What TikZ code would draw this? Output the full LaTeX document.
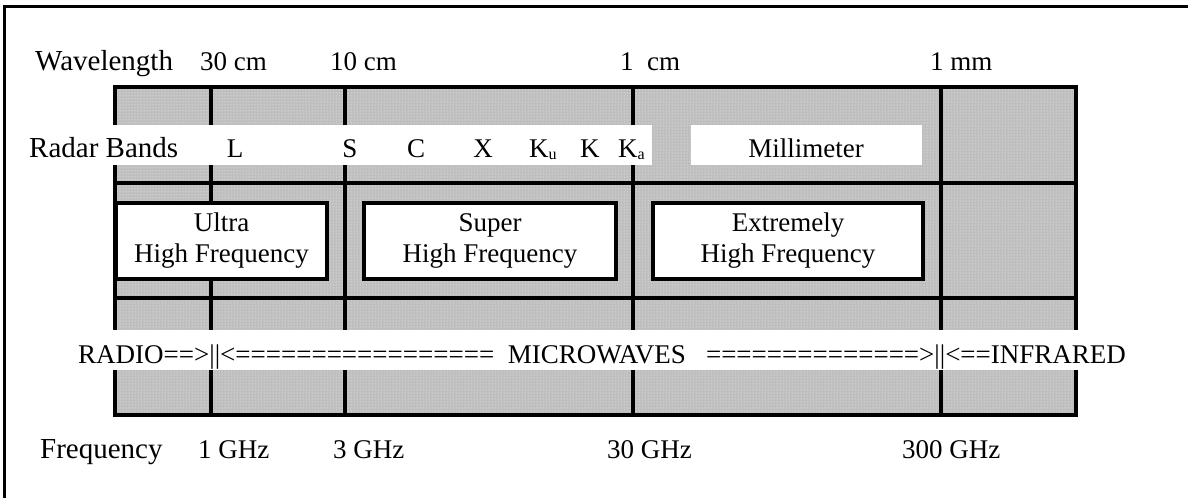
\documentclass[tikz,border=0pt]{standalone}
\usepackage{fontspec}
\setmainfont{Liberation Serif}
\usetikzlibrary{patterns}
\definecolor{gridgray}{RGB}{190,190,190}
\newcommand{\subs}[1]{\raisebox{-0.2ex}{\fontsize{16}{16}\selectfont #1}}
\begin{document}
\begin{tikzpicture}[x=1pt,y=-1pt,
  lbl/.style={inner sep=0pt, anchor=base west, font=\fontsize{27}{31}\selectfont},
  biglbl/.style={inner sep=0pt, anchor=base west, font=\fontsize{29}{31}\selectfont},
  clbl/.style={inner sep=0pt, anchor=base, font=\fontsize{27}{31}\selectfont},
  gridline/.style={line width=3.2pt},
  bandbox/.style={draw, line width=3.2pt, fill=white, inner sep=0pt, align=center,
    minimum height=76pt, font=\fontsize{27}{31}\selectfont},
]
\useasboundingbox (0,0) rectangle (1188,498);
\fill[white] (0,0) rectangle (1188,498);
% outer frame (top and left only)
\draw[line width=3pt] (4,498) -- (4,6) -- (1188,6);
% grid background
\fill[gridgray] (115,87) rectangle (1076,415);
\fill[pattern=dots, pattern color=white!92!gridgray] (115,87) rectangle (1076,415);
% grid lines
\draw[gridline] (115,87) rectangle (1076,415);
\foreach \x in {211,345,633,941} \draw[gridline] (\x,87) -- (\x,415);
\draw[gridline] (115,183) -- (1076,183);
\draw[gridline] (115,298) -- (1076,298);
% white strips
\fill[white] (10,125) rectangle (652,165);
\fill[white] (691,125) rectangle (922,165);
\fill[white] (100,330) rectangle (1100,370);
% frequency bands
\node[bandbox, minimum width=211pt] (uhf) at (221.5,241) {Ultra\\High Frequency};
\node[bandbox, minimum width=252pt] (shf) at (490,241) {Super\\High Frequency};
\node[bandbox, minimum width=270pt] (ehf) at (788,241) {Extremely\\High Frequency};
% wavelength row
\node[biglbl] (wl) at (35,70) {Wavelength};
\node[lbl] (w30) at (200,70) {30 cm};
\node[lbl] (w10) at (330,70) {10 cm};
\node[lbl] (w1) at (620,70) {1\ \ cm};
\node[lbl] (w1mm) at (930,70) {1 mm};
% radar bands row
\node[biglbl] (rb) at (29,157) {Radar Bands};
\node[clbl] (bL) at (235,157) {L};
\node[clbl] (bS) at (350,157) {S};
\node[clbl] (bC) at (416,157) {C};
\node[clbl] (bX) at (483,157) {X};
\node[lbl] (bKu) at (529,157) {K\subs{u}};
\node[lbl] (bK) at (580,157) {K};
\node[lbl] (bKa) at (618,157) {K\subs{a}};
\node[clbl] (bmm) at (806,157) {Millimeter};
% spectrum line
\node[lbl] (spec) at (78,363) {RADIO==>||<=================\ \ MICROWAVES\ \ \ ==============>||<==INFRARED};
% frequency row
\node[biglbl] (fq) at (40,458) {Frequency};
\node[lbl] (f1) at (198,458) {1 GHz};
\node[lbl] (f3) at (333,458) {3 GHz};
\node[lbl] (f30) at (607,458) {30 GHz};
\node[lbl] (f300) at (902,458) {300 GHz};
\end{tikzpicture}
\end{document}
